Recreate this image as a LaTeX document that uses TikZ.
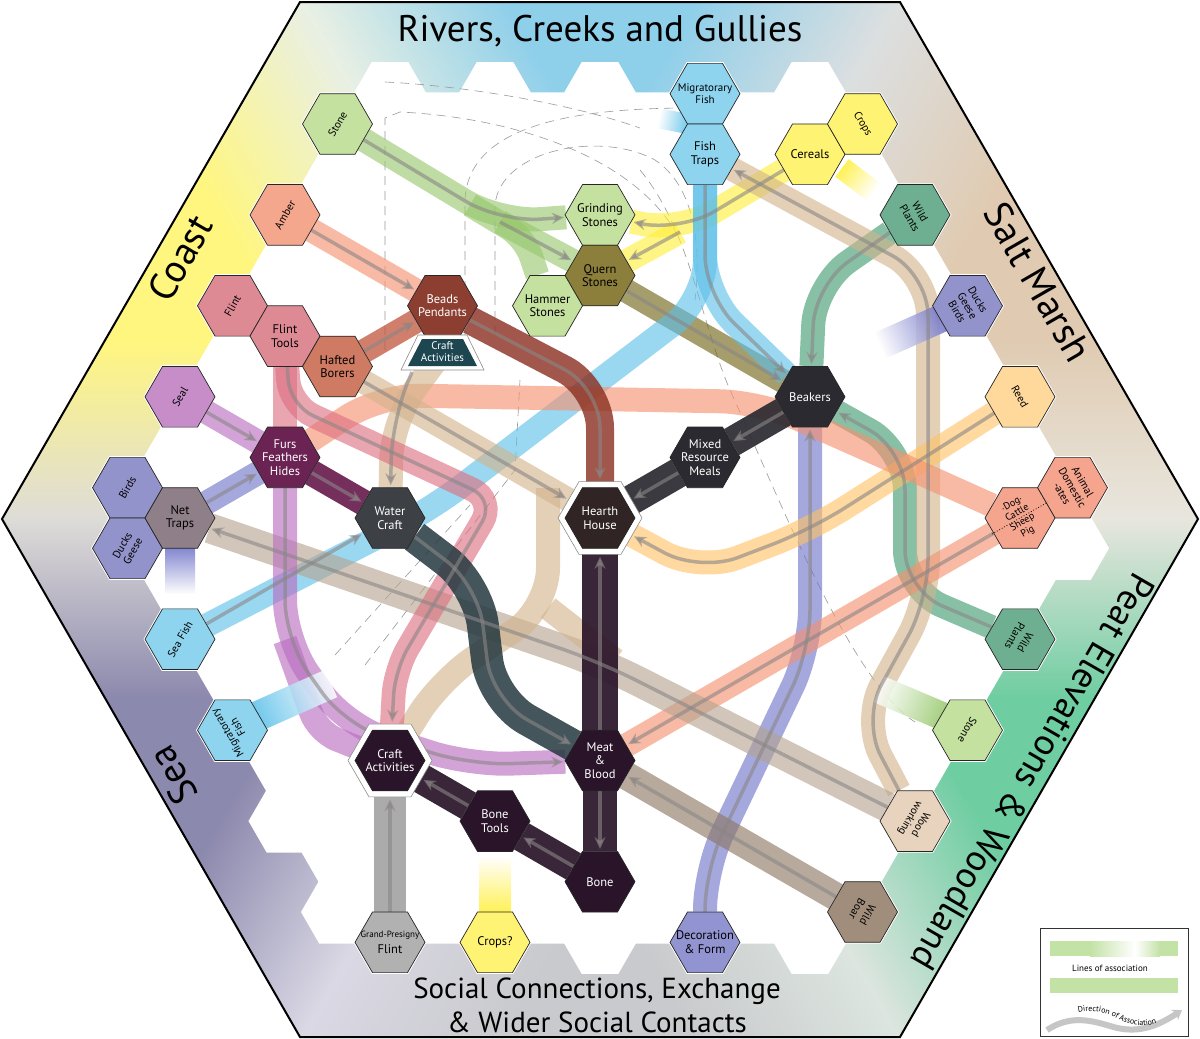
\documentclass[tikz,border=0pt]{standalone}
\usepackage{fontspec}
\setmainfont{PT Sans}
\usetikzlibrary{shapes.geometric,arrows.meta,calc,decorations.text}

\def \hexSize {70pt}

% region colours
\definecolor{riverC}{HTML}{8ECFEA}
\definecolor{coastC}{HTML}{FFF67F}
\definecolor{seaC}{HTML}{8C89AE}
\definecolor{socialC}{HTML}{C9CACD}
\definecolor{peatC}{HTML}{6FCDA2}
\definecolor{marshC}{HTML}{E0CBB2}
\definecolor{tlMid}{HTML}{E9F0E4}
\definecolor{trMid}{HTML}{DCDFE0}
\definecolor{rMid}{HTML}{E8E6DE}
\definecolor{brMid}{HTML}{DCE5DF}
\definecolor{blMid}{HTML}{DAD8E4}
\definecolor{lMid}{HTML}{DEDCD8}
% hexagon fills
\definecolor{stoneG}{HTML}{C5E1A0}
\definecolor{amberC}{HTML}{F4A78D}
\definecolor{flintC}{HTML}{DE8A95}
\definecolor{haftC}{HTML}{CF7A62}
\definecolor{beadC}{HTML}{8C3E31}
\definecolor{craftT}{HTML}{1E4650}
\definecolor{sealC}{HTML}{C68DC9}
\definecolor{fursC}{HTML}{6A2352}
\definecolor{birdC}{HTML}{9393CB}
\definecolor{netC}{HTML}{8F7F88}
\definecolor{waterC}{HTML}{3D4045}
\definecolor{fishC}{HTML}{8ED4EF}
\definecolor{quernC}{HTML}{8C7E3B}
\definecolor{cropC}{HTML}{FFF373}
\definecolor{wildC}{HTML}{6DAF90}
\definecolor{reedC}{HTML}{FFD89C}
\definecolor{animC}{HTML}{F5A48E}
\definecolor{woodC}{HTML}{E8D4BE}
\definecolor{boarC}{HTML}{A08D7B}
\definecolor{decoC}{HTML}{9293D1}
\definecolor{grandC}{HTML}{B1B1B1}
\definecolor{plumC}{HTML}{2A1429}
\definecolor{hearthC}{HTML}{302424}
\definecolor{mealC}{HTML}{2B2A30}
% band colours
\definecolor{bGreen}{HTML}{97C86C}
\definecolor{bYellow}{HTML}{FFEF3A}
\definecolor{bOlive}{HTML}{6F6212}
\definecolor{bBrick}{HTML}{8A2E1E}
\definecolor{bSalmon}{HTML}{F6906F}
\definecolor{bTerra}{HTML}{C0553A}
\definecolor{bBlue}{HTML}{5CC0EA}
\definecolor{bTeal}{HTML}{3F9A70}
\definecolor{bTan}{HTML}{D2B48C}
\definecolor{bLav}{HTML}{6F73C8}
\definecolor{bOrange}{HTML}{FFC266}
\definecolor{bBoar}{HTML}{8C7560}
\definecolor{bWood}{HTML}{B5A48F}
\definecolor{bOrchid}{HTML}{B86CC0}
\definecolor{bMag}{HTML}{6A1E50}
\definecolor{bSlate}{HTML}{243840}
\definecolor{bPink}{HTML}{DD6F80}
\definecolor{bGray}{HTML}{8F8F8F}
\definecolor{coreC}{HTML}{8A8686}
\definecolor{legG}{HTML}{C3E2A5}

\pgfdeclarehorizontalshading{ringTL}{100bp}{color(0bp)=(coastC); color(33bp)=(coastC); color(50bp)=(tlMid); color(67bp)=(riverC); color(100bp)=(riverC)}
\pgfdeclarehorizontalshading{ringTR}{100bp}{color(0bp)=(riverC); color(33bp)=(riverC); color(50bp)=(trMid); color(67bp)=(marshC); color(100bp)=(marshC)}
\pgfdeclarehorizontalshading{ringR}{100bp}{color(0bp)=(marshC); color(33bp)=(marshC); color(50bp)=(rMid); color(67bp)=(peatC); color(100bp)=(peatC)}
\pgfdeclarehorizontalshading{ringBR}{100bp}{color(0bp)=(peatC); color(33bp)=(peatC); color(50bp)=(brMid); color(67bp)=(socialC); color(100bp)=(socialC)}
\pgfdeclarehorizontalshading{ringBL}{100bp}{color(0bp)=(socialC); color(33bp)=(socialC); color(50bp)=(blMid); color(67bp)=(seaC); color(100bp)=(seaC)}
\pgfdeclarehorizontalshading{ringL}{100bp}{color(0bp)=(seaC); color(33bp)=(seaC); color(50bp)=(lMid); color(67bp)=(coastC); color(100bp)=(coastC)}

\pgfdeclarelayer{ring}
\pgfdeclarelayer{bands}
\pgfsetlayers{ring,bands,main}

\newcommand\hexfont{\fontsize{12.5}{13.5}\selectfont}
\newcommand\hexsmall{\fontsize{11}{12}\selectfont}
\newcommand\regionfont{\fontsize{39}{44}\selectfont}

% a band that fades out: start, angle, length, width, colour
\newcommand\fadeband[5]{%
  \begin{scope}[transform canvas={shift={(#1)}, rotate=#2}]
    \shade[left color=#5, right color=white, opacity=.85] (0,-#4/2) rectangle (#3,#4/2);
  \end{scope}
}

\tikzset{
  hexnode/.style={regular polygon, regular polygon sides=6, minimum size=\hexSize,
    inner sep=0pt, draw=black!85, line width=0.7pt},
  ringnode/.style={hexnode, minimum size=84pt, fill=white, draw=black!45, line width=0.6pt},
  whitecell/.style={regular polygon, regular polygon sides=6, minimum size=73pt,
    inner sep=0pt, fill=white},
  hexlbl/.style={align=center, font=\hexfont, inner sep=0pt},
  rotlbl/.style={hexlbl, font=\hexsmall},
  band/.style={line width=24pt, opacity=.62, rounded corners=40pt},
  darkband/.style={band, line width=32pt, opacity=.92},
  core/.style={draw=coreC, line width=3.5pt, opacity=.6, rounded corners=40pt,
    -{Stealth[length=12pt,width=11pt]}, shorten >=2pt},
  assoc/.style={draw=black!40, line width=0.6pt, dash pattern=on 9pt off 6pt},
  region/.style={font=\regionfont, inner sep=0pt},
}

\begin{document}
\begin{tikzpicture}[x=1pt,y=-1pt]
\useasboundingbox (0,0) rectangle (1200,1039);

% ---------- landscape ring
\begin{pgfonlayer}{ring}
  \begin{scope}
    \clip (2,519) -- (300,2) -- (900,2) -- (1198,519) -- (900,1037) -- (300,1037) -- cycle;
    \foreach \ang/\shd in {30/ringTL,-30/ringTR,-90/ringR,-150/ringBR,150/ringBL,90/ringL}{
      \begin{scope}[transform canvas={shift={(600,519)},rotate=\ang}]
        \shade[shading=\shd] (0,0) -- (-262,-452) -- (0,-603) -- (262,-452) -- cycle;
      \end{scope}
    }
  \end{scope}
  % inner white field, cell by cell
  \foreach \k/\rtop in {-9/1,-8/4,-7/7,-6/10,-5/13,-4/14,-3/13,-2/14,-1/13,0/14,
                        1/13,2/14,3/13,4/14,5/13,6/10,7/7,8/4,9/1}{
    \pgfmathtruncatemacro\rlow{-\rtop}
    \pgfmathtruncatemacro\rnext{-\rtop+2}
    \foreach \r in {\rlow,\rnext,...,\rtop}{
      \node[whitecell] at ({600+52.5*\k},{518+30.31*\r}) {};
    }
  }
  \draw[line width=2pt] (2,519) -- (300,2) -- (900,2) -- (1198,519) -- (900,1037) -- (300,1037) -- cycle;
\end{pgfonlayer}

% ---------- region names
\node[font=\fontsize{37}{40}\selectfont] (riversT) at (600,31) {Rivers, Creeks and Gullies};
\node[region, rotate=60] (coastT) at (180,258) {Coast};
\node[region, rotate=-60] (marshT) at (1038,282) {Salt Marsh};
\node[region, rotate=120] (seaT) at (173,775) {Sea};
\node[region, font=\fontsize{37}{40}\selectfont, rotate=-120] (peatT) at (1033,772) {Peat Elevations \& Woodland};
\node[align=center, font=\fontsize{29}{34}\selectfont] (socialT) at (597,1005)
  {Social Connections, Exchange\\\& Wider Social Contacts};

% ---------- hexagons
\node[hexnode, fill=stoneG, label={[rotlbl,rotate=60]center:Stone}] (stoneL) at (337.5,124) {};
\node[hexnode, fill=amberC, label={[rotlbl,rotate=60]center:Amber}] (amber) at (285,214.9) {};
\node[hexnode, fill=flintC, label={[rotlbl,rotate=60]center:Flint}] (flint) at (232.5,305.8) {};
\node[hexnode, fill=flintC, label={[hexlbl]center:Flint\\Tools}] (flintTools) at (285,336.1) {};
\node[hexnode, fill=haftC, label={[hexlbl]center:Hafted\\Borers}] (hafted) at (337.5,366.5) {};
\node[hexnode, fill=beadC, label={[hexlbl,text=white]center:Beads\\Pendants}] (beads) at (442.5,305.8) {};
\coordinate (craftUp) at (442.5,352);
\filldraw[fill=white, draw=black!45, line width=0.6pt] (401,370) -- (418,335) -- (467,335) -- (484,370) -- cycle;
\fill[craftT] (408,366) -- (422,339) -- (463,339) -- (477,366) -- cycle;
\node[hexlbl, text=white, font=\hexsmall] (craftUpT) at (craftUp) {Craft\\Activities};
\node[hexnode, fill=sealC, label={[rotlbl,rotate=60]center:Seal}] (seal) at (180,396.8) {};
\node[hexnode, fill=fursC, label={[hexlbl,text=white]center:Furs\\Feathers\\Hides}] (furs) at (285,457.4) {};
\node[hexnode, fill=birdC, label={[rotlbl,rotate=60]center:Birds}] (birdsL) at (127.5,487.7) {};
\node[hexnode, fill=birdC, label={[rotlbl,rotate=60]center:Ducks\\Geese}] (ducksL) at (127.5,548.3) {};
\node[hexnode, fill=netC, label={[hexlbl]center:Net\\Traps}] (netTraps) at (180,518) {};
\node[hexnode, fill=waterC, label={[hexlbl,text=white]center:Water\\Craft}] (water) at (390,518) {};
\node[hexnode, fill=fishC, label={[rotlbl,rotate=60]center:Sea Fish}] (seaFish) at (180,639.2) {};
\node[hexnode, fill=fishC, label={[rotlbl,rotate=120]center:Migratorary\\Fish}] (migL) at (232.5,730.2) {};
\node[hexnode, fill=stoneG, label={[hexlbl]center:Grinding\\Stones}] (grinding) at (600,214.9) {};
\node[hexnode, fill=quernC, label={[hexlbl]center:Quern\\Stones}] (quern) at (600,275.5) {};
\node[hexnode, fill=stoneG, label={[hexlbl]center:Hammer\\Stones}] (hammer) at (547.5,305.8) {};
\node[hexnode, fill=fishC, label={[hexlbl,font=\hexsmall]center:Migratorary\\Fish}] (migTop) at (705,93.7) {};
\node[hexnode, fill=fishC, label={[hexlbl]center:Fish\\Traps}] (fishTraps) at (705,154.3) {};
\node[hexnode, fill=cropC, label={[hexlbl]center:Cereals}] (cereals) at (810,154.3) {};
\node[hexnode, fill=cropC, label={[rotlbl,rotate=-60]center:Crops}] (crops) at (862.5,124) {};
\node[hexnode, fill=wildC, label={[rotlbl,rotate=-60]center:Wild\\Plants}] (wildUR) at (915,214.9) {};
\node[hexnode, fill=birdC, label={[rotlbl,rotate=-60]center:Ducks\\Geese\\Birds}] (ducksR) at (967.5,305.8) {};
\node[hexnode, fill=reedC, label={[rotlbl,rotate=-60]center:Reed}] (reed) at (1020,396.8) {};
\node[hexnode, fill=animC, label={[rotlbl,rotate=-60]center:Animal\\Domestic\\-ates}] (animal) at (1072.5,487.7) {};
\node[hexnode, fill=animC, label={[rotlbl,rotate=30,font=\fontsize{10}{10.5}\selectfont]center:·Dog·\\Cattle\\Sheep\\Pig}] (dog) at (1020,518) {};
\draw[dotted, line width=0.8pt] ($(dog)+(-28,16)$) -- ($(dog)+(28,-16)$);
\node[hexnode, fill=wildC, label={[rotlbl,rotate=-120]center:Wild\\Plants}] (wildLR) at (1020,639.2) {};
\node[hexnode, fill=stoneG, label={[rotlbl,rotate=-120]center:Stone}] (stoneR) at (967.5,730.2) {};
\node[hexnode, fill=woodC, label={[rotlbl,rotate=-120]center:Wood\\working}] (wood) at (915,821.1) {};
\node[hexnode, fill=boarC, label={[rotlbl,rotate=-120]center:Wild\\Boar}] (boar) at (862.5,912) {};
\node[hexnode, fill=decoC, label={[hexlbl]center:Decoration\\\& Form}] (deco) at (705,942.3) {};
\node[hexnode, fill=cropC, label={[hexlbl]center:Crops?}] (cropsQ) at (495,942.3) {};
\node[hexnode, fill=grandC, label={[hexlbl]center:{\fontsize{9}{10}\selectfont Grand-Presigny}\\[3pt]Flint}] (grand) at (390,942.3) {};
\node[ringnode] (craftRing) at (390,760.5) {};
\node[hexnode, fill=plumC, label={[hexlbl,text=white]center:Craft\\Activities}] (craftLow) at (390,760.5) {};
\node[hexnode, fill=plumC, label={[hexlbl,text=white]center:Bone\\Tools}] (boneTools) at (495,821.1) {};
\node[hexnode, fill=plumC, label={[hexlbl,text=white]center:Bone}] (bone) at (600,881.7) {};
\node[hexnode, fill=plumC, label={[hexlbl,text=white]center:Meat\\\&\\Blood}] (meat) at (600,760.5) {};
\node[ringnode] (hearthRing) at (600,518) {};
\node[hexnode, fill=hearthC, label={[hexlbl,text=white]center:Hearth\\House}] (hearth) at (600,518) {};
\node[hexnode, fill=mealC, label={[hexlbl,text=white]center:Mixed\\Resource\\Meals}] (mixed) at (705,457.4) {};
\node[hexnode, fill=mealC, label={[hexlbl,text=white]center:Beakers}] (beakers) at (810,396.8) {};

% ---------- legend
\node[draw=black!80, line width=1pt, fill=white, minimum width=148pt, minimum height=108pt, inner sep=0pt] (legend) at (1114,982) {};
\fill[legG] (1050,941) rectangle (1090,956);
\shade[left color=legG, right color=white] (1090,941) rectangle (1135,956);
\shade[left color=white, right color=legG] (1135,941) rectangle (1160,956);
\fill[legG] (1160,941) rectangle (1178,956);
\node[font=\fontsize{9}{10}\selectfont] (legLines) at (1110,968) {Lines of association};
\fill[legG] (1050,978) rectangle (1178,993);
\draw[gray!45, line width=6pt, -{Stealth[length=9pt,width=12pt]}] (1047,1030) .. controls (1070,1015) and (1090,1020) .. (1110,1026) .. controls (1135,1034) and (1155,1028) .. (1182,1010);
\path[decorate, decoration={text along path, text align=center,
  text={|\fontsize{8}{9}\selectfont|Direction of Association}}]
  (1056,1024) .. controls (1080,1005) and (1105,1010) .. (1120,1020) .. controls (1140,1030) and (1160,1026) .. (1178,1010);

% ---------- lines of association
\begin{pgfonlayer}{bands}
  \draw[assoc] (385,350) -- (385,118) -- (400,112) .. controls (520,118) and (640,160) .. (680,240);
  \draw[assoc] (465,335) -- (465,200) .. controls (468,130) and (560,108) .. (690,108);
  \draw[assoc] (495,335) -- (495,205) .. controls (500,150) and (600,130) .. (655,160) .. controls (700,190) and (700,260) .. (695,300);
  \draw[assoc] (385,82) .. controls (450,85) and (560,100) .. (640,128);
  \draw[assoc] (640,170) .. controls (690,230) and (700,320) .. (730,390) .. controls (780,500) and (850,680) .. (915,722);
  \draw[assoc] (335,655) -- (470,505);
  \draw[assoc] (365,665) -- (515,470) -- (520,380);

  \draw[band, bGreen] (stoneL) -- (500,222) -- (grinding);
  \draw[band, bGreen] (500,222) -- (quern);
  \draw[band, bGreen, rounded corners=20pt] (470,205) -- (525,238) -- (hammer);
  \draw[band, bYellow] (cereals) -- (680,232) -- (grinding);
  \draw[band, bYellow] (680,232) -- (quern);
  \draw[band, bOlive] (quern) -- (beakers);
  \draw[band, bBlue] (fishTraps) -- (705,295) -- (beakers);
  \draw[band, bBlue] (seaFish) -- (430,510) -- (705,300) -- (fishTraps);
  \draw[band, bTeal] (wildUR) -- (815,285) -- (beakers);
  \draw[band, bTeal] (wildLR) -- (905,590) -- (905,450) -- (beakers);
  \draw[band, bTan] (wood) -- (862,720) -- (928,600) -- (928,275) -- (fishTraps);
  \draw[band, bLav] (deco) -- (705,870) -- (810,650) -- (beakers);
  \draw[band, bOrange] (reed) -- (810,530) -- (700,572) -- (hearth);
  \draw[band, bSalmon] (dog) -- (meat);
  \draw[band, bSalmon] (dog) -- (880,455) -- (760,402) -- (380,395) -- (furs);
  \draw[band, bBoar, line width=28pt] (boar) -- (meat);
  \draw[band, bWood, line width=30pt] (wood) -- (600,662) -- (netTraps);
  \draw[band, bTan] (hafted) -- (hearth);
  \draw[band, bTan] (craftLow) -- (440,680) -- (548,608) -- (548,488);
  \draw[band, bTan] (548,608) -- (615,660);
  \draw[band, bTan] (craftUp) -- (392,420) -- (water);
  \draw[band, bSalmon] (amber) -- (beads);
  \draw[band, bTerra, opacity=.75] (hafted) -- (beads);
  \draw[band, bBrick, line width=28pt, opacity=.8] (beads) -- (600,388) -- (hearth);
  \draw[band, bOrchid] (seal) -- (furs);
  \draw[band, bLav] (netTraps) -- (furs);
  \draw[band, bOrchid] (furs) -- (285,640) -- (345,725) -- (470,765) -- (meat);
  \draw[band, bOrchid, rounded corners=20pt] (285,640) -- (318,732) -- (craftLow);
  \draw[band, bPink] (flintTools) -- (furs);
  \draw[band, bPink, rounded corners=25pt] (flintTools) -- (290,405) -- (495,500) -- (395,670) -- (craftLow);
  \draw[darkband, bMag, line width=26pt] (furs) -- (water);
  \draw[darkband, bSlate, opacity=.85] (water) -- (478,585) -- (492,700) -- (meat);
  \draw[darkband, mealC, line width=30pt] (beakers) -- (mixed);
  \draw[darkband, mealC, line width=30pt] (mixed) -- (hearth);
  \draw[darkband, plumC, line width=36pt] (meat) -- (hearth);
  \draw[darkband, plumC, line width=34pt] (meat) -- (bone);
  \draw[darkband, plumC, line width=30pt] (bone) -- (boneTools);
  \draw[darkband, plumC, line width=30pt] (boneTools) -- (craftLow);
  \draw[band, bGray, line width=32pt, opacity=.75] (grand) -- (craftLow);

  % fading ties
  \fadeband{495,912}{90}{56}{32}{bYellow}
  \fadeband{180,548}{-90}{46}{30}{bLav}
  \fadeband{258,716}{24}{80}{30}{bBlue}
  \fadeband{942,716}{157}{68}{28}{bGreen}
  \fadeband{942,318}{-156}{68}{28}{bLav}
  \fadeband{688,124}{169}{30}{20}{bBlue}
  \fadeband{842,168}{-37}{40}{22}{bYellow}

  % direction of association
  \draw[core] (stoneL) -- (500,222) -- (grinding);
  \draw[core] (500,222) -- (quern);
  \draw[core] (cereals) -- (680,232) -- (grinding);
  \draw[core] (680,232) -- (quern);
  \draw[core] (quern) -- (beakers);
  \draw[core] (beakers) -- (mixed);
  \draw[core] (mixed) -- (hearthRing);
  \draw[core] (beads) -- (600,388) -- (hearthRing);
  \draw[core] (amber) -- (beads);
  \draw[core] (hafted) -- (beads);
  \draw[core] (fishTraps) -- (705,295) -- (beakers);
  \draw[core] (seaFish) -- (water);
  \draw[core] (wildUR) -- (815,285) -- (beakers);
  \draw[core] (wildLR) -- (905,590) -- (905,450) -- (beakers);
  \draw[core] (wood) -- (862,720) -- (928,600) -- (928,275) -- (fishTraps);
  \draw[core] (deco) -- (705,870) -- (810,650) -- (beakers);
  \draw[core] (reed) -- (810,530) -- (700,572) -- (hearthRing);
  \draw[core] (dog) -- (meat);
  \draw[core] (boar) -- (meat);
  \draw[core] (wood) -- (600,662) -- (netTraps);
  \draw[core] (hafted) -- (hearthRing);
  \draw[core] (412,372) -- (392,420) -- (water);
  \draw[core] (seal) -- (furs);
  \draw[core] (netTraps) -- (furs);
  \draw[core] (furs) -- (water);
  \draw[core] (water) -- (478,585) -- (492,700) -- (meat);
  \draw[core] (furs) -- (285,640) -- (345,725) -- (470,765) -- (meat);
  \draw[core, rounded corners=25pt] (flintTools) -- (290,405) -- (495,500) -- (395,670) -- (craftRing);
  \draw[core] (meat) -- (hearthRing);
  \draw[core] (meat) -- (bone);
  \draw[core] (bone) -- (boneTools);
  \draw[core] (boneTools) -- (craftRing);
  \draw[core] (grand) -- (craftRing);
\end{pgfonlayer}
\end{tikzpicture}
\end{document}
